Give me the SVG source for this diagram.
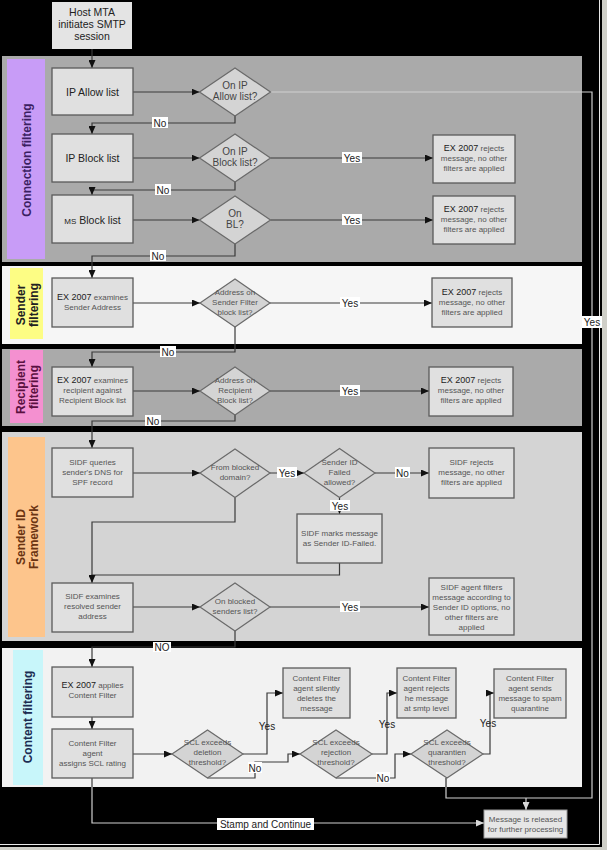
<svg xmlns="http://www.w3.org/2000/svg" width="607" height="850" viewBox="0 0 607 850">
<defs>
<marker id="ah" markerUnits="userSpaceOnUse" markerWidth="8" markerHeight="7" refX="8" refY="3.5" orient="auto">
<path d="M0,0 L8,3.5 L0,7 z" fill="#111"/>
</marker>
<marker id="ahl" markerUnits="userSpaceOnUse" markerWidth="8" markerHeight="7" refX="8" refY="3.5" orient="auto">
<path d="M0,0 L8,3.5 L0,7 z" fill="#d8d8d8"/>
</marker>
<style>
text{font-family:"Liberation Sans",Arial,sans-serif;text-anchor:middle;}
.box{fill:#e0e0e0;stroke:#5a5a5a;stroke-width:1.3}
.dia{fill:#d4d4d4;stroke:#6a6a6a;stroke-width:1.2}
.ln{fill:none;stroke:#3a3a3a;stroke-width:1.2}
.lt{fill:none;stroke:#cfcfcf;stroke-width:1.2}
.bg{fill:#fff}
.t{font-size:10px;fill:#444}
.tb{font-size:10.5px;fill:#222}
.lab{font-size:10px;fill:#222}
.d{font-size:8px;fill:#555}
.lane{font-size:12px;font-weight:bold}
</style>
</defs>
<rect x="0" y="0" width="607" height="850" fill="#cfcfc8"/>
<rect x="0" y="0" width="602" height="847" fill="#000"/>
<path d="M599.5,0 V844.5 H0" fill="none" stroke="#e8e8e8" stroke-width="1"/>

<g id="lanes">
<rect x="2" y="56" width="580" height="206" fill="#aaaaaa"/>
<rect x="7" y="59" width="38" height="200" fill="#c89cf7"/>
<rect x="2" y="266" width="580" height="78" fill="#f6f6f6"/>
<rect x="10" y="268" width="33" height="71" fill="#fdfd84"/>
<rect x="2" y="349" width="580" height="77" fill="#aaaaaa"/>
<rect x="10" y="350" width="33" height="73" fill="#f490d0"/>
<rect x="2" y="432" width="580" height="209" fill="#d4d4d4"/>
<rect x="8" y="437" width="37" height="200" fill="#fdc58c"/>
<rect x="2" y="648" width="580" height="139" fill="#f2f2f2"/>
<rect x="13" y="650" width="30" height="135" fill="#c8f6fa"/>
<text class="lane" transform="translate(31,160) rotate(-90)" fill="#3b1f62">Connection filtering</text>
<text class="lane" transform="translate(26.5,305) rotate(-90)" fill="#222"><tspan x="0" y="-2">Sender</tspan><tspan x="0" y="11">filtering</tspan></text>
<text class="lane" transform="translate(26.5,387) rotate(-90)" fill="#5a1040"><tspan x="0" y="-2">Recipient</tspan><tspan x="0" y="11">filtering</tspan></text>
<text class="lane" transform="translate(26.5,537) rotate(-90)" fill="#6a3412"><tspan x="0" y="-2">Sender ID</tspan><tspan x="0" y="11">Framework</tspan></text>
<text class="lane" transform="translate(32,717) rotate(-90)" fill="#1c2c52">Content filtering</text>
</g>

<g id="connectors">
<path class="lt" d="M270.5,92 H592 V798 H446 V778"/>
<path class="ln" d="M446,778 V787"/>
<path class="lt" d="M526,798 V810" marker-end="url(#ahl)"/>
<path class="ln" d="M92,49 V68" marker-end="url(#ah)"/>
<path class="ln" d="M133,92 H199.5" marker-end="url(#ah)"/>
<path class="ln" d="M235,116 V123 H92 V134" marker-end="url(#ah)"/>
<path class="ln" d="M133,158 H199.5" marker-end="url(#ah)"/>
<path class="ln" d="M270.5,158 H433" marker-end="url(#ah)"/>
<path class="ln" d="M235,182 V190 H92 V195" marker-end="url(#ah)"/>
<path class="ln" d="M133,220 H199.5" marker-end="url(#ah)"/>
<path class="ln" d="M270.5,220 H433" marker-end="url(#ah)"/>
<path class="ln" d="M235,244 V256 H92 V278" marker-end="url(#ah)"/>
<path class="ln" d="M133,303 H200" marker-end="url(#ah)"/>
<path class="ln" d="M270,303 H432" marker-end="url(#ah)"/>
<path class="ln" d="M235,327 V352 H92 V367" marker-end="url(#ah)"/>
<path class="ln" d="M133,391 H200" marker-end="url(#ah)"/>
<path class="ln" d="M270,391 H429" marker-end="url(#ah)"/>
<path class="ln" d="M235,415 V421 H92 V448" marker-end="url(#ah)"/>
<path class="ln" d="M133,473 H200" marker-end="url(#ah)"/>
<path class="ln" d="M270,473 H304" marker-end="url(#ah)"/>
<path class="ln" d="M375,473 H429" marker-end="url(#ah)"/>
<path class="ln" d="M339.5,497.5 V514" marker-end="url(#ah)"/>
<path class="ln" d="M339.5,563 V575 H92 V583" marker-end="url(#ah)"/>
<path class="ln" d="M235,497.5 V522 H92 V575"/>
<path class="ln" d="M133,607 H200" marker-end="url(#ah)"/>
<path class="ln" d="M270,607 H429" marker-end="url(#ah)"/>
<path class="ln" d="M235,631 V647 H92 V667" marker-end="url(#ah)"/>
<path class="ln" d="M92,717 V729" marker-end="url(#ah)"/>
<path class="ln" d="M133,754 H172" marker-end="url(#ah)"/>
<path class="ln" d="M243,754 H267 V693 H283" marker-end="url(#ah)"/>
<path class="ln" d="M207.5,778 H255 V762 H288 V754 H300" marker-end="url(#ah)"/>
<path class="ln" d="M372,754 H387 V693 H397" marker-end="url(#ah)"/>
<path class="ln" d="M336,778 H395 V754 H411" marker-end="url(#ah)"/>
<path class="ln" d="M483,754 H490 V693 H494" marker-end="url(#ah)"/>
<path class="ln" d="M92,778 V787"/>
<path class="lt" d="M92,787 V823 H484" marker-end="url(#ahl)"/>
</g>

<g id="labels">
<rect class="bg" x="152" y="117" width="16" height="11"/><text class="lab" x="160" y="126.5">No</text>
<rect class="bg" x="155" y="184" width="16" height="11"/><text class="lab" x="163" y="193.5">No</text>
<rect class="bg" x="150" y="250" width="16" height="11"/><text class="lab" x="158" y="259.5">No</text>
<rect class="bg" x="342" y="152" width="20" height="11"/><text class="lab" x="352" y="161.5">Yes</text>
<rect class="bg" x="342" y="214" width="20" height="11"/><text class="lab" x="352" y="223.5">Yes</text>
<rect class="bg" x="340" y="297" width="20" height="11"/><text class="lab" x="350" y="306.5">Yes</text>
<rect class="bg" x="160" y="346" width="16" height="11"/><text class="lab" x="168" y="355.5">No</text>
<rect class="bg" x="340" y="385" width="20" height="11"/><text class="lab" x="350" y="394.5">Yes</text>
<rect class="bg" x="145" y="415" width="16" height="11"/><text class="lab" x="153" y="424.5">No</text>
<rect class="bg" x="582" y="316" width="20" height="12"/><text class="lab" x="592" y="325.5">Yes</text>
<rect class="bg" x="277" y="467" width="20" height="11"/><text class="lab" x="287" y="476.5">Yes</text>
<rect class="bg" x="395" y="467" width="15" height="11"/><text class="lab" x="402.5" y="476.5">No</text>
<rect class="bg" x="330" y="500" width="20" height="11"/><text class="lab" x="340" y="509.5">Yes</text>
<rect class="bg" x="340" y="601" width="20" height="11"/><text class="lab" x="350" y="610.5">Yes</text>
<rect class="bg" x="153" y="642" width="18" height="10"/><text class="lab" x="162" y="650.5">NO</text>
<text class="lab" x="267" y="730" font-size="11">Yes</text>
<rect class="bg" x="248" y="762" width="14" height="11"/><text class="lab" x="255" y="771.5">No</text>
<text class="lab" x="387" y="728" font-size="11">Yes</text>
<rect class="bg" x="376" y="772" width="14" height="11"/><text class="lab" x="383" y="781.5">No</text>
<text class="lab" x="488" y="727" font-size="11">Yes</text>
<rect class="bg" x="217" y="818" width="97" height="12"/><text class="lab" x="265.5" y="827.5">Stamp and Continue</text>
</g>

<g id="n-host"><rect x="52" y="2" width="80" height="47" fill="#e4e4e4"/><text class="tb"><tspan x="92" y="16">Host MTA</tspan><tspan x="92" y="28">initiates SMTP</tspan><tspan x="92" y="40">session</tspan></text></g>
<g id="n-ipallow"><rect class="box" x="52" y="68" width="81" height="47"/><text class="tb" x="92.5" y="95.5">IP Allow list</text></g>
<g id="n-d1"><polygon class="dia" points="199.5,92 235,68 270.5,92 235,116"/><text class="t"><tspan x="235" y="89">On IP</tspan><tspan x="235" y="100">Allow list?</tspan></text></g>
<g id="n-ipblock"><rect class="box" x="52" y="134" width="81" height="48"/><text class="tb" x="92.5" y="161.5">IP Block list</text></g>
<g id="n-d2"><polygon class="dia" points="199.5,158 235,134 270.5,158 235,182"/><text class="t"><tspan x="235" y="155">On IP</tspan><tspan x="235" y="166">Block list?</tspan></text></g>
<g id="n-rej1"><rect class="box" x="433" y="135" width="82" height="48"/><text class="d"><tspan x="474" y="151"><tspan fill="#222" font-size="9">EX 2007</tspan>  rejects</tspan><tspan x="474" y="161">message, no other</tspan><tspan x="474" y="171">filters are applied</tspan></text></g>
<g id="n-msblock"><rect class="box" x="52" y="195" width="81" height="48"/><text class="tb" x="92.5" y="223.5"><tspan font-size="8">MS</tspan> Block list</text></g>
<g id="n-d3"><polygon class="dia" points="199.5,220 235,196 270.5,220 235,244"/><text class="t"><tspan x="235" y="217">On</tspan><tspan x="235" y="228">BL?</tspan></text></g>
<g id="n-rej2"><rect class="box" x="433" y="196" width="82" height="48"/><text class="d"><tspan x="474" y="212"><tspan fill="#222" font-size="9">EX 2007</tspan> rejects</tspan><tspan x="474" y="222">message, no other</tspan><tspan x="474" y="232">filters are applied</tspan></text></g>

<g id="n-sender"><rect class="box" x="52" y="278" width="81" height="49"/><text class="d" font-size="8.5"><tspan x="92.5" y="300"><tspan fill="#222" font-size="9">EX 2007</tspan> examines</tspan><tspan x="92.5" y="310">Sender Address</tspan></text></g>
<g id="n-d4"><polygon class="dia" points="200,303 235,279 270,303 235,327"/><text class="d"><tspan x="235" y="295">Address on</tspan><tspan x="235" y="305">Sender Filter</tspan><tspan x="235" y="315">block list?</tspan></text></g>
<g id="n-rej3"><rect class="box" x="432" y="278" width="80" height="49"/><text class="d"><tspan x="472" y="295"><tspan fill="#222" font-size="9">EX 2007</tspan> rejects</tspan><tspan x="472" y="305">message, no other</tspan><tspan x="472" y="315">filters are applied</tspan></text></g>

<g id="n-recip"><rect class="box" x="52" y="367" width="81" height="49"/><text class="d" font-size="8.5"><tspan x="92.5" y="383"><tspan fill="#222" font-size="9">EX 2007</tspan> examines</tspan><tspan x="92.5" y="393">recipient against</tspan><tspan x="92.5" y="403">Recipient Block list</tspan></text></g>
<g id="n-d5"><polygon class="dia" points="200,391 235,367 270,391 235,415"/><text class="d"><tspan x="235" y="383">Address on</tspan><tspan x="235" y="393">Recipient</tspan><tspan x="235" y="403">Block list?</tspan></text></g>
<g id="n-rej4"><rect class="box" x="429" y="367" width="84" height="49"/><text class="d"><tspan x="471" y="383"><tspan fill="#222" font-size="9">EX 2007</tspan> rejects</tspan><tspan x="471" y="393">message, no other</tspan><tspan x="471" y="403">filters are applied</tspan></text></g>

<g id="n-sidf1"><rect class="box" x="52" y="448" width="81" height="49"/><text class="d" font-size="8.5"><tspan x="92.5" y="465">SIDF queries</tspan><tspan x="92.5" y="475">sender's DNS for</tspan><tspan x="92.5" y="485">SPF record</tspan></text></g>
<g id="n-d6"><polygon class="dia" points="200,473 235,449 270,473 235,497.5"/><text class="d"><tspan x="235" y="470">From blocked</tspan><tspan x="235" y="480">domain?</tspan></text></g>
<g id="n-d7"><polygon class="dia" points="304,473 339.5,448.5 375,473 339.5,497.5"/><text class="d"><tspan x="339.5" y="465">Sender ID</tspan><tspan x="339.5" y="475">Failed</tspan><tspan x="339.5" y="485">allowed?</tspan></text></g>
<g id="n-sidfrej"><rect class="box" x="429" y="448" width="85" height="50"/><text class="d"><tspan x="471.5" y="465">SIDF rejects</tspan><tspan x="471.5" y="475">message, no other</tspan><tspan x="471.5" y="485">filters are applied</tspan></text></g>
<g id="n-sidfmark"><rect class="box" x="297" y="514" width="85" height="49"/><text class="d"><tspan x="339.5" y="536">SIDF marks message</tspan><tspan x="339.5" y="546">as Sender ID-Failed.</tspan></text></g>
<g id="n-sidf2"><rect class="box" x="52" y="583" width="81" height="49"/><text class="d" font-size="8.5"><tspan x="92.5" y="599">SIDF examines</tspan><tspan x="92.5" y="609">resolved sender</tspan><tspan x="92.5" y="619">address</tspan></text></g>
<g id="n-d8"><polygon class="dia" points="200,607 235,583 270,607 235,631"/><text class="d"><tspan x="235" y="604">On blocked</tspan><tspan x="235" y="614">senders list?</tspan></text></g>
<g id="n-sidfagent"><rect class="box" x="429" y="578" width="85" height="57"/><text class="d"><tspan x="471.5" y="590">SIDF agent filters</tspan><tspan x="471.5" y="600">message according to</tspan><tspan x="471.5" y="610">Sender ID options, no</tspan><tspan x="471.5" y="620">other filters are</tspan><tspan x="471.5" y="630">applied</tspan></text></g>

<g id="n-cf1"><rect class="box" x="52" y="667" width="81" height="50"/><text class="d" font-size="8.5"><tspan x="92.5" y="688"><tspan fill="#222" font-size="9">EX 2007</tspan> applies</tspan><tspan x="92.5" y="698">Content Filter</tspan></text></g>
<g id="n-cf2"><rect class="box" x="52" y="729" width="81" height="49"/><text class="d" font-size="8.5"><tspan x="92.5" y="746">Content Filter</tspan><tspan x="92.5" y="756">agent</tspan><tspan x="92.5" y="766">assigns SCL rating</tspan></text></g>
<g id="n-d9"><polygon class="dia" points="172,754 207.5,730 243,754 207.5,778"/><text class="d"><tspan x="207.5" y="745">SCL exceeds</tspan><tspan x="207.5" y="755">deletion</tspan><tspan x="207.5" y="765">threshold?</tspan></text></g>
<g id="n-del"><rect class="box" x="283" y="668" width="67" height="50"/><text class="d"><tspan x="316.5" y="681">Content Filter</tspan><tspan x="316.5" y="691">agent silently</tspan><tspan x="316.5" y="701">deletes the</tspan><tspan x="316.5" y="711">message</tspan></text></g>
<g id="n-d10"><polygon class="dia" points="300,754 336,730 372,754 336,778"/><text class="d"><tspan x="336" y="745">SCL exceeds</tspan><tspan x="336" y="755">rejection</tspan><tspan x="336" y="765">threshold?</tspan></text></g>
<g id="n-rej5"><rect class="box" x="397" y="668" width="59" height="50"/><text class="d"><tspan x="426.5" y="681">Content Filter</tspan><tspan x="426.5" y="691">agent rejects</tspan><tspan x="426.5" y="701">he message</tspan><tspan x="426.5" y="711">at smtp level</tspan></text></g>
<g id="n-d11"><polygon class="dia" points="411,754 447,730 483,754 447,778"/><text class="d"><tspan x="447" y="745">SCL exceeds</tspan><tspan x="447" y="755">quarantien</tspan><tspan x="447" y="765">threshold?</tspan></text></g>
<g id="n-quar"><rect class="box" x="494" y="669" width="72" height="49"/><text class="d"><tspan x="530" y="681">Content Filter</tspan><tspan x="530" y="691">agent sends</tspan><tspan x="530" y="701">message to spam</tspan><tspan x="530" y="711">quarantine</tspan></text></g>
<g id="n-release"><rect x="484" y="810" width="83" height="28" fill="#e6e6e6" stroke="#999" stroke-width="1"/><text class="d"><tspan x="525.5" y="822">Message is released</tspan><tspan x="525.5" y="832">for further processing</tspan></text></g>
</svg>
